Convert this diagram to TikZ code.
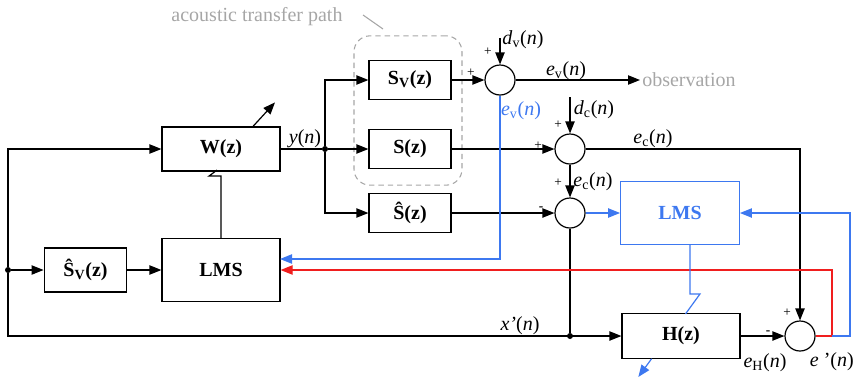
\documentclass[tikz,border=0pt]{standalone}
\usepackage{fontspec}
\setmainfont{Liberation Serif}
\usetikzlibrary{arrows.meta,calc}
\definecolor{lmsblue}{HTML}{3D78F0}
\definecolor{errred}{HTML}{F01E1E}
\definecolor{notegray}{HTML}{A6A6A6}
\newcommand{\sig}[2]{\textit{#1}\textsubscript{#2}(\textit{n})}

\begin{document}
\begin{tikzpicture}[x=0.75pt, y=-0.75pt, font=\fontsize{15}{17}\selectfont,
  blk/.style={draw, line width=0.9pt, fill=white, inner sep=1pt, font=\fontsize{15}{17}\selectfont\bfseries},
  sum/.style={draw, circle, line width=0.9pt, minimum size=22.5pt, inner sep=0pt},
  dot/.style={circle, fill, inner sep=0pt, minimum size=4.5pt},
  wire/.style={line width=0.9pt},
  arr/.style={wire, -{Triangle[length=9pt,width=7pt]}},
  sign/.style={inner sep=0pt, font=\fontsize{10}{11}\selectfont},
  lbl/.style={inner sep=0pt},
  note/.style={inner sep=0pt, text=notegray},
  pathbox/.style={draw=notegray, dashed, dash pattern=on 4pt off 3pt, line width=0.8pt, rounded corners=12pt, minimum width=81pt, minimum height=112pt}]
  \useasboundingbox (0,0) rectangle (855,379);

  % acoustic transfer path
  \node[pathbox] (acpath) at (408,110.5) {};
  \node[note] (acnote) at (257,17) {acoustic transfer path};
  \draw[notegray, line width=0.8pt] (363,15) -- (383,29);

  % blocks
  \node[blk, minimum width=88.5pt, minimum height=33pt] (W) at (221,149) {W(z)};
  \node[blk, minimum width=88.5pt, minimum height=47pt] (lmsA) at (221,270) {LMS};
  \node[blk, minimum width=62pt, minimum height=33pt] (svhat) at (85.5,270) {\^{S}\textsubscript{V}(z)};
  \node[blk, minimum width=61.5pt, minimum height=29pt] (sv) at (410,80) {S\textsubscript{V}(z)};
  \node[blk, minimum width=61.5pt, minimum height=29pt] (sz) at (410,149) {S(z)};
  \node[blk, minimum width=61.5pt, minimum height=29pt] (shat) at (410,213) {\^{S}(z)};
  \node[blk, draw=lmsblue, text=lmsblue, minimum width=89pt, minimum height=47pt] (lmsB) at (680,213) {LMS};
  \node[blk, minimum width=88.5pt, minimum height=34pt] (H) at (681,336) {H(z)};

  % summing points
  \node[sum] (s1) at (500,80) {};
  \node[sum] (s2) at (570,149) {};
  \node[sum] (s3) at (570,213) {};
  \node[sum] (s4) at (800,336) {};

  % branch points and free ends
  \node[dot] (jL) at (8,270) {};
  \node[dot] (jy) at (325,149) {};
  \node[dot] (jx) at (570,336) {};
  \coordinate (dvin) at (500,38);
  \coordinate (dcin) at (570,97);
  \coordinate (obs) at (640,80);
  \coordinate (evA) at (280,259);
  \coordinate (rc) at (832,336);
  \coordinate (bc) at (850,336);

  % signal paths
  \draw[arr] (jL) |- (W.west);
  \draw[arr] (jL) -- (svhat.west);
  \draw[arr] (svhat.east) -- (lmsA.west);
  \draw[arr] (jL) |- (H.west);
  \draw[wire] (W.east) -- (jy);
  \draw[arr] (jy) |- (sv.west);
  \draw[arr] (jy) -- (sz.west);
  \draw[arr] (jy) |- (shat.west);
  \draw[arr] (sv.east) -- (s1.west);
  \draw[arr] (dvin) -- (s1.north);
  \draw[arr] (s1.east) -- (obs);
  \draw[arr] (sz.east) -- (s2.west);
  \draw[arr] (dcin) -- (s2.north);
  \draw[arr] (s2.south) -- (s3.north);
  \draw[arr] (shat.east) -- (s3.west);
  \draw[arr] (s2.east) -| (s4.north);
  \draw[wire] (s3.south) -- (jx);
  \draw[arr] (H.east) -- (s4.west);
  \draw[arr, lmsblue] (s3.east) -- (lmsB.west);
  \draw[arr, lmsblue] (s1.south) |- (evA);
  \draw[arr, errred] (s4.east) -- (rc) |- (lmsA.east);
  \draw[arr, lmsblue] (rc) -- (bc) |- (lmsB.east);

  % adaptation
  \draw[wire] (lmsA.north) -- ++(0,-62) -- ++(-12,0) -- ++(8,-6);
  \draw[arr] ($(W.north)+(32,0)$) -- ++(22,-24);
  \draw[wire, lmsblue] ($(lmsB.south)+(10,0)$) -- ++(0,49) -- ++(10,0) -- ++(-14.5,20);
  \draw[arr, lmsblue] (651.6,358.7) -- (638.3,377);

  % labels
  \node[lbl] (ylbl) at (305,139) {\textit{y}(\textit{n})};
  \node[lbl] (dvlbl) at (523,40) {\sig{d}{v}};
  \node[lbl] (evlbl) at (566,71) {\sig{e}{v}};
  \node[lbl, text=lmsblue] (evblbl) at (521,111) {\sig{e}{v}};
  \node[lbl] (dclbl) at (594,110) {\sig{d}{c}};
  \node[lbl] (eclbl) at (653,139) {\sig{e}{c}};
  \node[lbl] (ecblbl) at (593,182) {\sig{e}{c}};
  \node[lbl] (xlbl) at (520,326) {\textit{x'}(\textit{n})};
  \node[lbl] (ehlbl) at (765,363) {\sig{e}{H}};
  \node[lbl, anchor=east] (eplbl) at (854,362) {\textit{e} '(\textit{n})};
  \node[note, anchor=west] (obsnote) at (642,80) {observation};

  % signs
  \node[sign] at (471,73) {+};
  \node[sign] at (488,52) {+};
  \node[sign] at (538,146) {+};
  \node[sign] at (558,125) {+};
  \node[sign] at (558,183) {+};
  \node[sign] at (541,209) {\textbf{-}};
  \node[sign] at (787,313) {+};
  \node[sign] at (768,333) {\textbf{-}};
\end{tikzpicture}
\end{document}
